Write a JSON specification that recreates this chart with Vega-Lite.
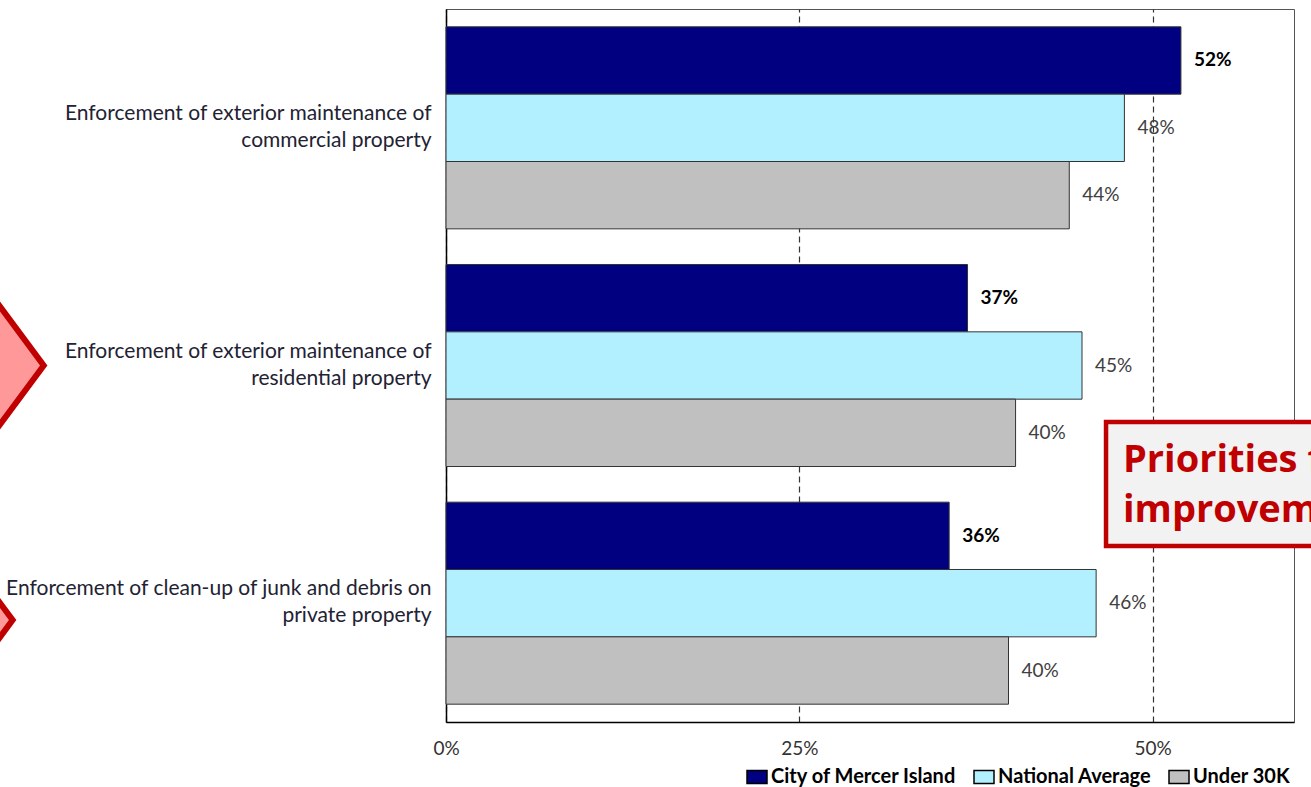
{
  "$schema": "https://vega.github.io/schema/vega-lite/v6.json",
  "width": 848,
  "height": 713,
  "autosize": {"type": "none"},
  "padding": {"left": 446, "top": 9, "right": 17, "bottom": 65},
  "background": "white",
  "config": {"view": {"stroke": "#555", "strokeWidth": 1}, "font": "Lato"},
  "datasets": {
    "bars": [
      {"item": "Enforcement of exterior maintenance of commercial property", "series": "City of Mercer Island", "pct": 0.520},
      {"item": "Enforcement of exterior maintenance of commercial property", "series": "National Average", "pct": 0.480},
      {"item": "Enforcement of exterior maintenance of commercial property", "series": "Under 30K", "pct": 0.441},
      {"item": "Enforcement of exterior maintenance of residential property", "series": "City of Mercer Island", "pct": 0.369},
      {"item": "Enforcement of exterior maintenance of residential property", "series": "National Average", "pct": 0.450},
      {"item": "Enforcement of exterior maintenance of residential property", "series": "Under 30K", "pct": 0.403},
      {"item": "Enforcement of clean-up of junk and debris on private property", "series": "City of Mercer Island", "pct": 0.356},
      {"item": "Enforcement of clean-up of junk and debris on private property", "series": "National Average", "pct": 0.460},
      {"item": "Enforcement of clean-up of junk and debris on private property", "series": "Under 30K", "pct": 0.398}
    ],
    "notes": [
      {"kind": "box", "x": 0.467, "x2": 0.64, "y": 1.738, "y2": 2.259},
      {"kind": "label", "x": 0.479, "y": 1.948, "text": ["Priorities for", "improvement"]},
      {"kind": "arrow", "x": -0.337, "y": 1.5},
      {"kind": "arrow", "x": -0.359, "y": 2.571}
    ]
  },
  "resolve": {"scale": {"y": "independent"}, "axis": {"y": "independent"}},
  "layer": [
    {
      "data": {"name": "bars"},
      "encoding": {
        "y": {
          "field": "item", "type": "nominal", "sort": null,
          "scale": {"paddingInner": 0.15, "paddingOuter": 0.075},
          "axis": {
            "title": null, "ticks": false, "domainColor": "black", "domainWidth": 1.5,
            "labelFontSize": 21, "labelColor": "#222233", "labelPadding": 15, "labelLineHeight": 27, "labelLimit": 0,
            "labelOffset": -14,
            "labelExpr": "[slice(datum.value, 0, lastindexof(slice(datum.value, 0, lastindexof(datum.value, ' ')), ' ')), slice(datum.value, lastindexof(slice(datum.value, 0, lastindexof(datum.value, ' ')), ' ') + 1)]"
          }
        },
        "yOffset": {
          "field": "series", "type": "nominal",
          "sort": ["City of Mercer Island", "National Average", "Under 30K"],
          "scale": {"paddingInner": 0, "paddingOuter": 0}
        },
        "x": {
          "field": "pct", "type": "quantitative",
          "scale": {"domain": [0, 0.6], "nice": false, "zero": true},
          "axis": {
            "title": null, "values": [0, 0.25, 0.5], "format": ".0%", "grid": true,
            "gridDash": [6, 4], "gridColor": "#333", "gridWidth": 1.2,
            "domainColor": "black", "domainWidth": 1.5, "ticks": false, "labelFlush": false,
            "labelPadding": 17, "labelFontSize": 19, "labelColor": "#333"
          }
        }
      },
      "layer": [
        {
          "mark": {"type": "bar", "stroke": "#333", "strokeWidth": 1},
          "encoding": {
            "color": {
              "field": "series", "type": "nominal",
              "scale": {"domain": ["City of Mercer Island", "National Average", "Under 30K"], "range": ["#000080", "#B3F0FF", "#C0C0C0"]},
              "legend": {
                "orient": "none", "legendX": 300, "legendY": 757, "direction": "horizontal", "title": null,
                "symbolType": "M-1,-0.65L1,-0.65L1,0.65L-1,0.65Z", "symbolSize": 400, "symbolStrokeColor": "black", "symbolStrokeWidth": 1.5,
                "labelFontSize": 20, "labelFontWeight": "bold", "labelColor": "black", "labelLimit": 0, "columnPadding": 14, "labelOffset": 3
              }
            }
          }
        },
        {
          "transform": [{"filter": "datum.series === 'City of Mercer Island'"}],
          "mark": {"type": "text", "align": "left", "baseline": "middle", "dx": 13, "fontSize": 19, "fontWeight": "bold", "color": "black"},
          "encoding": {"text": {"field": "pct", "type": "quantitative", "format": ".0%"}}
        },
        {
          "transform": [{"filter": "datum.series !== 'City of Mercer Island'"}],
          "mark": {"type": "text", "align": "left", "baseline": "middle", "dx": 13, "fontSize": 19, "color": "#404040"},
          "encoding": {"text": {"field": "pct", "type": "quantitative", "format": ".0%"}}
        }
      ]
    },
    {
      "data": {"name": "notes"},
      "encoding": {
        "x": {"field": "x", "type": "quantitative", "scale": {"domain": [0, 0.6], "nice": false, "zero": true}},
        "y": {"field": "y", "type": "quantitative", "scale": {"domain": [0, 3], "reverse": true, "nice": false, "zero": false}, "axis": null}
      },
      "layer": [
        {
          "transform": [{"filter": "datum.kind === 'box'"}],
          "mark": {"type": "rect", "fill": "#F2F2F2", "stroke": "#C00000", "strokeWidth": 4.5},
          "encoding": {"x2": {"field": "x2"}, "y2": {"field": "y2"}}
        },
        {
          "transform": [{"filter": "datum.kind === 'label'"}],
          "mark": {"type": "text", "align": "left", "baseline": "alphabetic", "font": "Open Sans", "fontSize": 38, "fontWeight": "bold", "color": "#C00000", "lineHeight": 50},
          "encoding": {"text": {"field": "text"}}
        },
        {
          "transform": [{"filter": "datum.kind === 'arrow'"}],
          "mark": {"type": "point", "shape": "M-0.74,0L0,-1L0.74,0L0,1Z", "size": 40000, "filled": true, "fill": "#FF9999", "stroke": "#C00000", "strokeWidth": 6, "opacity": 1}
        }
      ]
    }
  ]
}
